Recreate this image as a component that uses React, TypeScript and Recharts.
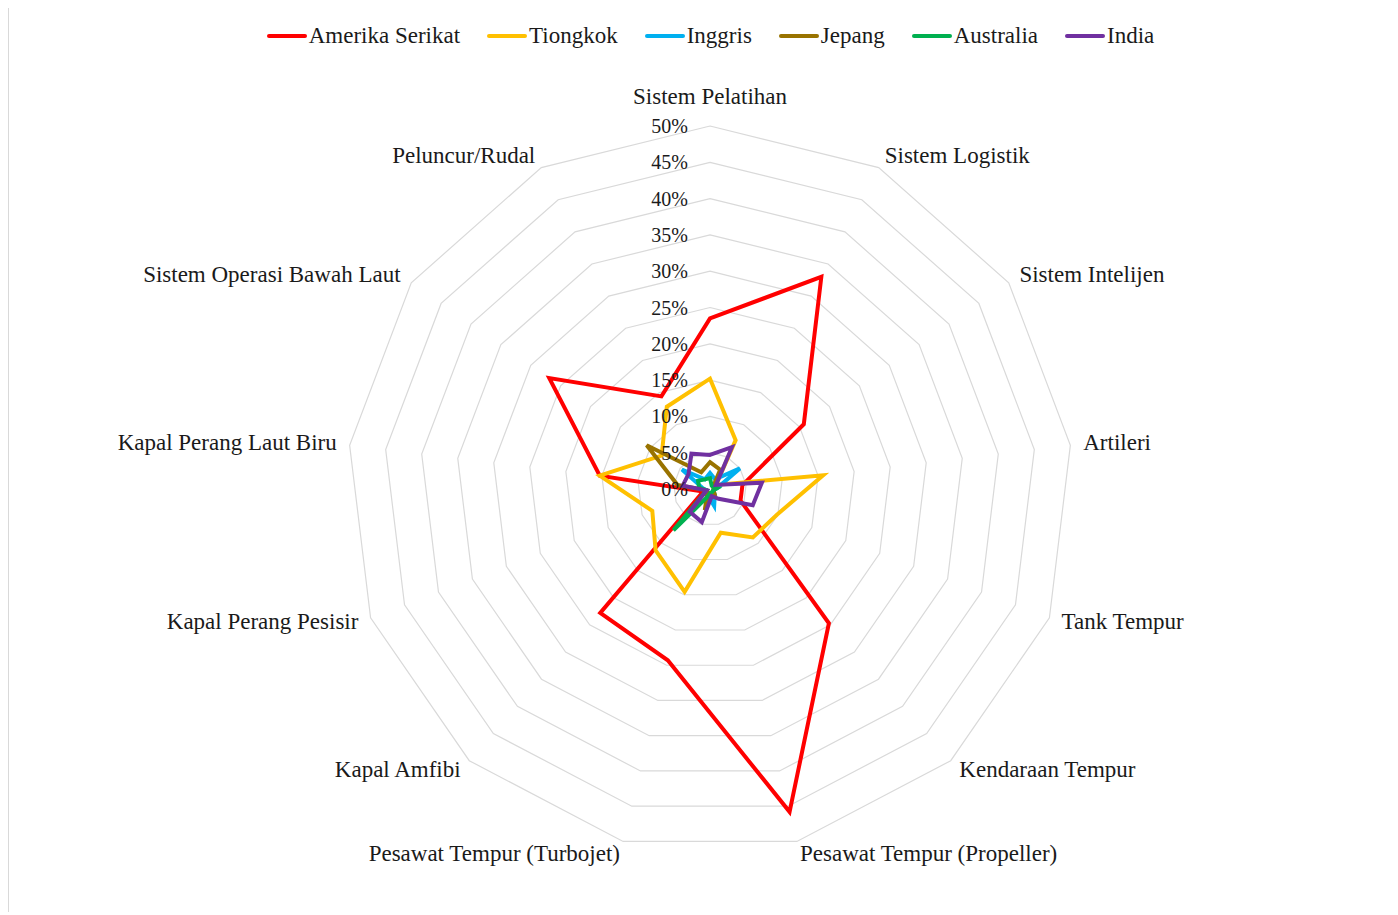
import React from 'react';
import { RadarChart, Radar, PolarGrid, PolarAngleAxis, PolarRadiusAxis, Legend } from 'recharts';

const categories = [
  'Sistem Pelatihan',
  'Sistem Logistik',
  'Sistem Intelijen',
  'Artileri',
  'Tank Tempur',
  'Kendaraan Tempur',
  'Pesawat Tempur (Propeller)',
  'Pesawat Tempur (Turbojet)',
  'Kapal Amfibi',
  'Kapal Perang Pesisir',
  'Kapal Perang Laut Biru',
  'Sistem Operasi Bawah Laut',
  'Peluncur/Rudal',
];

// nilai dalam persen
const amerikaSerikat = [23.5, 33, 15.7, 4.5, 4.5, 24.7, 45.8, 24.3, 22.8, 1, 15.3, 26.9, 14.4];
const tiongkok = [15.2, 7.6, 1, 15.7, 9.9, 8.9, 6.2, 14.6, 11.3, 8.5, 15.3, 8.1, 12.8];
const inggris = [2.2, 1.5, 5, 1, 0.5, 1, 2.4, 1, 0.5, 0.5, 1, 4.7, 1.5];
const jepang = [3.7, 3, 0.5, 0.5, 0.5, 1, 1, 3, 0.5, 0.5, 4.5, 10.6, 2.6];
const australia = [1.5, 0.5, 0.5, 1, 0.5, 0.5, 0.5, 1, 7.6, 0.5, 1.5, 2, 1.5];
const india = [4.7, 6.5, 1, 7.2, 6.3, 1.8, 1, 4.7, 4.2, 0.5, 3.8, 3.6, 5.5];

const radiusTicks = [0, 5, 10, 15, 20, 25, 30, 35, 40, 45, 50];

const series = [
  { key: 'Amerika Serikat', values: amerikaSerikat, color: '#FF0000' },
  { key: 'Tiongkok', values: tiongkok, color: '#FFC000' },
  { key: 'Inggris', values: inggris, color: '#00B0F0' },
  { key: 'Jepang', values: jepang, color: '#997300' },
  { key: 'Australia', values: australia, color: '#00B050' },
  { key: 'India', values: india, color: '#7030A0' },
];

const data = categories.map((category, i) => {
  const row: Record<string, string | number> = { category };
  series.forEach((s) => {
    row[s.key] = s.values[i];
  });
  return row;
});

const FONT = '"Liberation Serif", "DejaVu Serif", serif';
const TEXT = '#1a1a1a';

const AngleTick = (props: any) => {
  const { x, y, textAnchor, payload } = props;
  const dy = textAnchor === 'middle' ? -17 : -1;
  return (
    <text
      x={x}
      y={y + dy}
      textAnchor={textAnchor}
      dominantBaseline="central"
      fontFamily={FONT}
      fontSize={23}
      fill={TEXT}
    >
      {payload.value}
    </text>
  );
};

const RadiusTick = (props: any) => {
  const { x, y, payload } = props;
  return (
    <text
      x={x - 22}
      y={y}
      textAnchor="end"
      dominantBaseline="central"
      fontFamily={FONT}
      fontSize={20}
      fill={TEXT}
    >
      {`${payload.value}%`}
    </text>
  );
};

const LegendContent = () => (
  <div
    style={{
      display: 'flex',
      justifyContent: 'center',
      alignItems: 'center',
      fontFamily: FONT,
      fontSize: 23,
      color: TEXT,
      gap: 27,
      paddingLeft: 14,
    }}
  >
    {series.map((s) => (
      <div key={s.key} style={{ display: 'flex', alignItems: 'center' }}>
        <span
          style={{
            display: 'inline-block',
            width: 40,
            height: 4,
            borderRadius: 2,
            background: s.color,
            marginRight: 2,
          }}
        />
        <span>{s.key}</span>
      </div>
    ))}
  </div>
);

export default function App() {
  return (
    <div style={{ width: 1390, height: 907, marginTop: -3, overflow: 'hidden' }}>
      <div
        style={{
          width: 1400,
          height: 920,
          borderLeft: '1px solid #d9d9d9',
          borderTop: '1px solid #d9d9d9',
          background: '#fff',
        }}
      >
        <RadarChart
          width={1389}
          height={905}
          data={data}
          cx={701}
          cy={483}
          outerRadius={363}
          startAngle={90}
          endAngle={-270}
        >
          <PolarGrid gridType="polygon" stroke="#d9d9d9" strokeWidth={1.2} radialLines={false} />
          <PolarAngleAxis
            dataKey="category"
            tick={AngleTick}
            tickLine={false}
            axisLine={false}
            tickSize={13}
          />
          <PolarRadiusAxis
            angle={90}
            domain={[0, 50]}
            ticks={radiusTicks}
            tickCount={11}
            tick={RadiusTick}
            axisLine={false}
            tickLine={false}
          />
          {series.map((s) => (
            <Radar
              key={s.key}
              name={s.key}
              dataKey={s.key}
              stroke={s.color}
              strokeWidth={4}
              strokeLinejoin="miter"
              fill="none"
              fillOpacity={0}
              dot={false}
              isAnimationActive={false}
            />
          ))}
          <Legend
            verticalAlign="top"
            content={LegendContent}
            wrapperStyle={{ top: 17, left: 0, width: '100%' }}
          />
        </RadarChart>
      </div>
    </div>
  );
}
